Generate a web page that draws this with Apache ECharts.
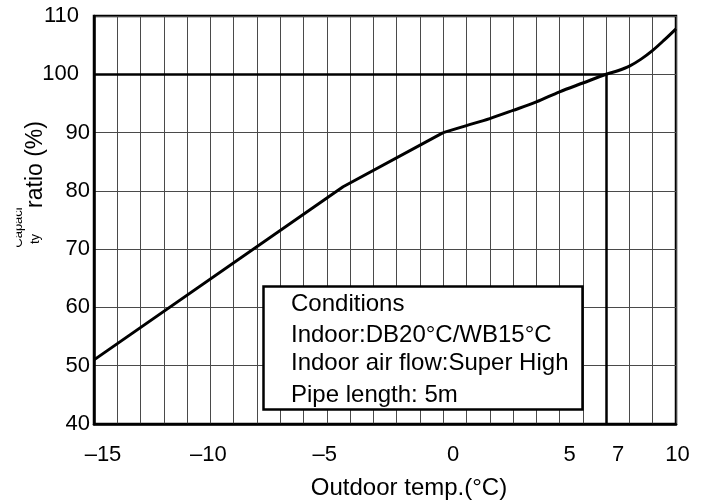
<!DOCTYPE html>
<html><head><meta charset="utf-8">
<script src="https://cdn.jsdelivr.net/npm/echarts@6/dist/echarts.min.js"></script>
<style>html,body{margin:0;padding:0;background:#fff}#c{width:706px;height:504px}</style>
</head><body><div id="c"></div>
<script>
// ---- data ----
const tempLinear = [-15, -4.3, 0];
const ratioLinear = [51, 80.7, 90];
const tempCurve = [0, 1, 2, 3, 4, 5, 6, 7, 7.5, 8, 8.5, 9, 9.5, 10];
const ratioCurve = [90, 91.2, 92.4, 93.8, 95.25, 97.0, 98.5, 100, 100.6, 101.4, 102.6, 104.1, 105.9, 107.8];
const xTickLabels = [-15, -10, -5, 0, 5, 7, 10];
const yTickLabels = [40, 50, 60, 70, 80, 90, 100, 110];
const ratedTemp = 7;
const ratedRatio = 100;
const xAxisTitle = 'Outdoor temp.(\u00b0C)';
const yAxisTitle = 'ratio (%)';
const yAxisTitleCut = ['Capaci', 'ty'];
const conditionLines = ['Conditions', 'Indoor:DB20\u00b0C/WB15\u00b0C', 'Indoor air flow:Super High', 'Pipe length: 5m'];

// ---- styling (label nudges, fonts) ----
const FONT = '"Liberation Sans", Arial, sans-serif';
const xLabelPad = {'-15':[0,0,0,18], '-10':[0,4,0,0], '-5':[0,4,0,0], '0':[0,0,0,20], '5':[0,0,0,20], '7':[0,0,0,24], '10':[0,0,0,3]};
const yLabelPad = {'110':[0,11,0,0], '100':[0,11,0,0]};

const fmtNum = v => (v < 0 ? '\u2013' + Math.abs(v) : String(v));
const xRich = {}, yRich = {};
xTickLabels.forEach((v, i) => { xRich['k' + i] = {fontSize: 22, fontFamily: FONT, color: '#000', padding: xLabelPad[String(v)] || [0,0,0,0]}; });
yTickLabels.forEach((v, i) => { yRich['k' + i] = {fontSize: 22, fontFamily: FONT, color: '#000', padding: yLabelPad[String(v)] || [0,0,0,0]}; });

const chart = echarts.init(document.getElementById('c'), null, {renderer: 'canvas'});
const gridLine = {show: true, lineStyle: {color: '#4a4a4a', width: 1}};

const graphics = [
  {type: 'text', x: 409, y: 488, z: 100, style: {text: xAxisTitle, x: 0, y: 0, font: '24px ' + FONT, fill: '#000', align: 'center', verticalAlign: 'middle'}},
  {type: 'text', x: 36, y: 164.5, rotation: Math.PI / 2, z: 100, style: {text: yAxisTitle, x: 0, y: 0, font: '23px ' + FONT, fill: '#000', align: 'center', verticalAlign: 'middle'}},
  {type: 'text', x: 18, y: 227.5, rotation: Math.PI / 2, z: 100, style: {text: yAxisTitleCut[0], x: 0, y: 0, font: '13px ' + FONT, fill: '#000', align: 'center', verticalAlign: 'middle'}},
  {type: 'rect', z: 101, shape: {x: 0, y: 200, width: 16.5, height: 60}, style: {fill: '#fff'}},
  {type: 'text', x: 35, y: 239, rotation: Math.PI / 2, z: 100, style: {text: yAxisTitleCut[1], x: 0, y: 0, font: '13px ' + FONT, fill: '#000', align: 'center', verticalAlign: 'middle'}},
  {type: 'rect', z: 100, shape: {x: 263.5, y: 286.5, width: 319, height: 123}, style: {fill: '#fff', stroke: '#000', lineWidth: 2.5}}
];
const lineY = [304.5, 335, 363.5, 395];
conditionLines.forEach((t, i) => {
  graphics.push({type: 'text', x: 291, y: lineY[i], z: 102, style: {text: t, x: 0, y: 0, font: '24px ' + FONT, fill: '#000', align: 'left', verticalAlign: 'middle'}});
});

chart.setOption({
  animation: false,
  backgroundColor: '#fff',
  grid: {left: 94, right: 30, top: 16, bottom: 80, show: true, borderColor: '#000', borderWidth: 2.5, backgroundColor: 'transparent'},
  xAxis: {
    type: 'value', min: -15, max: 10, interval: 1,
    axisLine: {show: true, onZero: false, lineStyle: {color: '#000', width: 2.5}},
    axisTick: {show: false},
    splitLine: gridLine,
    axisLabel: {
      interval: 0, margin: 20, rich: xRich,
      formatter: v => { const i = xTickLabels.indexOf(Math.round(v)); return (i < 0 || Math.abs(v - Math.round(v)) > 1e-6) ? '' : '{k' + i + '|' + fmtNum(xTickLabels[i]) + '}'; }
    }
  },
  yAxis: {
    type: 'value', min: 40, max: 110, interval: 10,
    axisLine: {show: true, onZero: false, lineStyle: {color: '#000', width: 2.5}},
    axisTick: {show: false},
    splitLine: gridLine,
    axisLabel: {
      margin: 4, rich: yRich,
      formatter: v => { const i = yTickLabels.indexOf(Math.round(v)); return i < 0 ? '' : '{k' + i + '|' + yTickLabels[i] + '}'; }
    }
  },
  series: [
    {
      type: 'line', symbol: 'none', silent: true,
      data: tempLinear.map((t, i) => [t, ratioLinear[i]]),
      lineStyle: {color: '#000', width: 3},
      markLine: {
        symbol: 'none', silent: true, label: {show: false},
        lineStyle: {color: '#000', width: 2.5, type: 'solid'},
        data: [
          [{coord: [-15, ratedRatio]}, {coord: [ratedTemp, ratedRatio]}],
          [{coord: [ratedTemp, 40]}, {coord: [ratedTemp, ratedRatio]}]
        ]
      }
    },
    {
      type: 'line', symbol: 'none', silent: true, smooth: 0.3,
      data: tempCurve.map((t, i) => [t, ratioCurve[i]]),
      lineStyle: {color: '#000', width: 3}
    }
  ],
  graphic: graphics
});
</script>
</body></html>
